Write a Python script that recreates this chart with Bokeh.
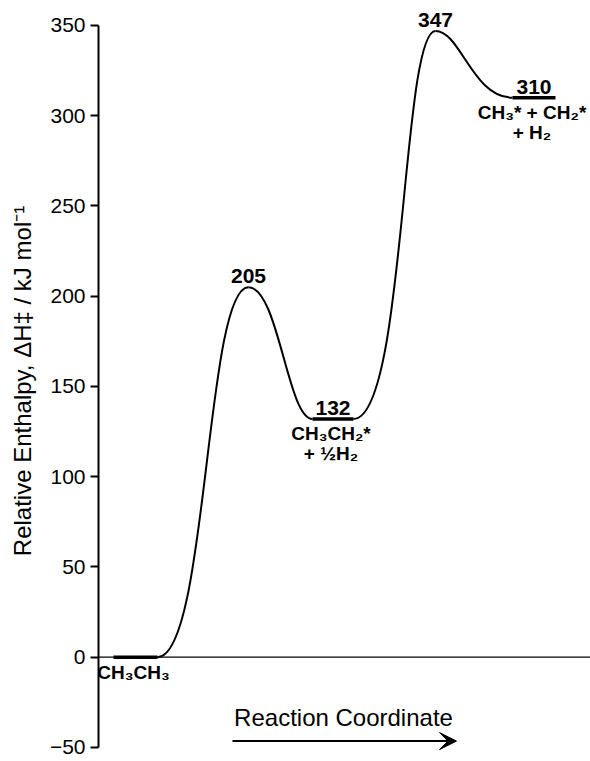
from bokeh.plotting import figure
from bokeh.models import Range1d, FixedTicker, Span, Arrow, VeeHead
from bokeh.core.properties import value
from bokeh.embed import file_html
from bokeh.resources import INLINE

# ---------------- data ----------------
# minima (plateaus) along the reaction coordinate
level_energy = [0, 132, 310]
level_x_start = [15, 214, 414]
level_x_end = [59, 255, 457]
level_line1 = ["CH\u2083CH\u2083", "CH\u2083CH\u2082*", "CH\u2083* + CH\u2082*"]
level_line2 = ["", "+ \u00bdH\u2082", "+ H\u2082"]
# transition states (maxima)
ts_x = [150, 337]
ts_energy = [205, 347]
# y axis
y_ticks = [-50, 0, 50, 100, 150, 200, 250, 300, 350]
y_tick_labels = ["\u221250", "0", "50", "100", "150", "200", "250", "300", "350"]
x_title = "Reaction Coordinate"
y_title = "Relative Enthalpy, \u0394H\u2021 / kJ mol\u207b\u00b9"

# ---------------- style ----------------
FONT = value("Liberation Sans")
arm_out = [50, 30, 52, 25]   # bezier control arm leaving each stationary point
arm_in = [43, 25, 34, 40]    # bezier control arm entering next stationary point

p = figure(width=590, height=761, x_range=Range1d(0, 492), y_range=Range1d(-57.8, 363.85),
           output_backend="svg", toolbar_location=None, x_axis_location=None,
           min_border_left=98, min_border_right=0, min_border_top=0, min_border_bottom=0)
p.grid.visible = False
p.outline_line_color = None

ax = p.yaxis[0]
ax.ticker = FixedTicker(ticks=y_ticks)
ax.major_label_overrides = dict(zip(y_ticks, y_tick_labels))
ax.bounds = (y_ticks[0], y_ticks[-1])
ax.minor_tick_line_color = None
ax.major_tick_in = 0
ax.major_tick_out = 8
ax.major_tick_line_width = 2
ax.axis_line_width = 2
ax.major_label_text_font = "Liberation Sans"
ax.major_label_text_font_size = "21px"
ax.major_label_text_color = "black"
ax.major_label_standoff = 5
ax.axis_label = y_title
ax.axis_label_text_font = "Liberation Sans"
ax.axis_label_text_font_size = "24px"
ax.axis_label_text_font_style = "normal"
ax.axis_label_text_color = "black"
ax.axis_label_standoff = 11

# zero line
p.add_layout(Span(location=0, dimension="width", line_color="black", line_width=1.3))

# curve segments between stationary points
x0 = [level_x_end[0], ts_x[0], level_x_end[1], ts_x[1]]
y0 = [level_energy[0], ts_energy[0], level_energy[1], ts_energy[1]]
x1 = [ts_x[0], level_x_start[1], ts_x[1], level_x_start[2]]
y1 = [ts_energy[0], level_energy[1], ts_energy[1], level_energy[2]]
cx0 = [a + b for a, b in zip(x0, arm_out)]
cx1 = [a - b for a, b in zip(x1, arm_in)]
p.bezier(x0=x0, y0=y0, x1=x1, y1=y1, cx0=cx0, cy0=y0, cx1=cx1, cy1=y1,
         line_color="black", line_width=2)

# plateaus
p.segment(x0=level_x_start, y0=level_energy, x1=level_x_end, y1=level_energy,
          line_color="black", line_width=3.5)

lvl_mid = [(a + b) / 2 for a, b in zip(level_x_start, level_x_end)]
num = dict(text_font=FONT, text_font_style="bold", text_font_size="21px",
           text_align="center", text_baseline="middle", text_color="black")
spc = dict(num, text_font_size="19px")

# energies above maxima
p.text(x=ts_x, y=ts_energy, text=[str(e) for e in ts_energy], y_offset=-11, **num)
# energies above plateaus (except reference 0)
p.text(x=lvl_mid[1:], y=level_energy[1:], text=[str(e) for e in level_energy[1:]],
       y_offset=-11, **num)
# species names
p.text(x=lvl_mid, y=level_energy, text=level_line1, y_offset=15, x_offset=-2, **spc)
p.text(x=lvl_mid[1:], y=level_energy[1:], text=level_line2[1:], y_offset=35, x_offset=-2, **spc)

# reaction coordinate label & arrow
p.text(x=[245], y=[-33.4], text=[x_title], text_font=FONT, text_font_size="24px",
       text_align="center", text_baseline="middle", text_color="black")
p.add_layout(Arrow(end=VeeHead(size=17, fill_color="black", line_color="black"),
                   x_start=134, y_start=-46.5, x_end=358, y_end=-46.5,
                   line_color="black", line_width=2))

open("out.html", "w").write(file_html(p, INLINE))
